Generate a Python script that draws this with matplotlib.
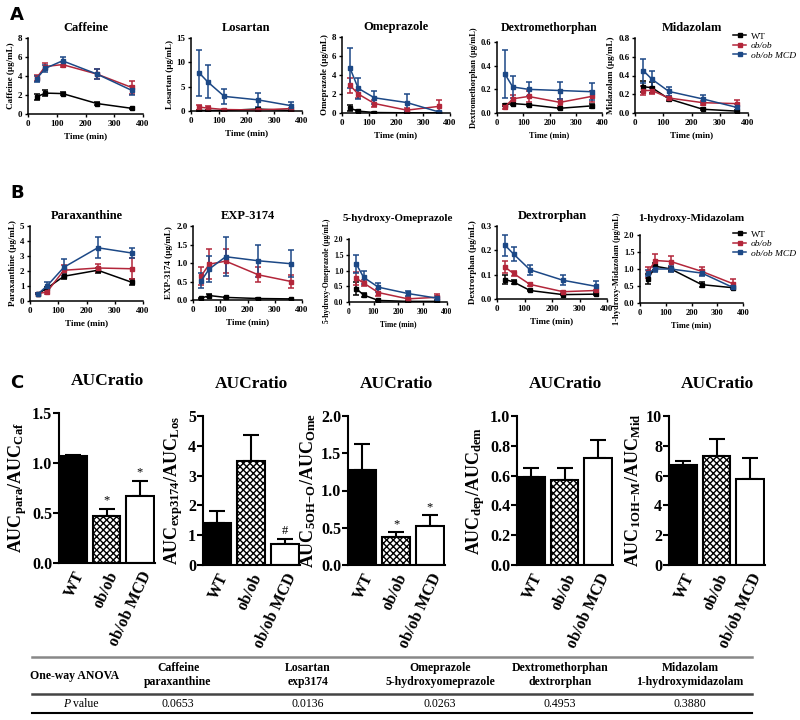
import matplotlib.pyplot as plt
import numpy as np
from matplotlib.lines import Line2D

plt.rcParams['font.family'] = ['Liberation Serif', 'DejaVu Serif']
plt.rcParams['font.weight'] = 'bold'
plt.rcParams['mathtext.fontset'] = 'custom'
plt.rcParams['mathtext.rm'] = 'Liberation Serif:bold'
plt.rcParams['mathtext.it'] = 'Liberation Serif:italic:bold'
plt.rcParams['mathtext.bf'] = 'Liberation Serif:bold'

time = [30, 60, 120, 240, 360]
groups = ['WT', 'ob/ob', 'ob/ob MCD']
colors = ['black', '#b3263a', '#1c4886']

# A: parent drugs, rows = WT, ob/ob, ob/ob MCD
caf_mean = [[1.8, 2.2, 2.15, 1.1, 0.6], [3.8, 5.0, 5.2, 4.2, 2.8], [3.7, 4.8, 5.6, 4.2, 2.5]]
caf_err = [[0.35, 0.3, 0.2, 0.15, 0.05], [0.3, 0.4, 0.3, 0.5, 0.7], [0.3, 0.4, 0.4, 0.55, 0.5]]
los_mean = [[0.1, 0.1, 0.1, 0.4, 0.1], [0.8, 0.6, 0.3, 0.2, 0.5], [7.8, 6.0, 3.0, 2.3, 1.1]]
los_err = [[0.05, 0.05, 0.05, 0.3, 0.05], [0.5, 0.4, 0.1, 0.1, 0.2], [4.7, 3.4, 1.6, 1.5, 0.7]]
ome_mean = [[0.5, 0.2, 0.05, 0.02, 0.02], [2.9, 2.0, 1.0, 0.3, 0.7], [4.7, 2.6, 1.6, 1.1, 0.1]]
ome_err = [[0.3, 0.1, 0.03, 0.02, 0.02], [0.8, 0.4, 0.4, 0.2, 0.7], [2.1, 1.1, 0.7, 0.9, 0.1]]
dem_mean = [[0.07, 0.08, 0.07, 0.04, 0.06], [0.05, 0.12, 0.14, 0.09, 0.14], [0.33, 0.22, 0.2, 0.19, 0.18]]
dem_err = [[0.01, 0.01, 0.01, 0.005, 0.02], [0.02, 0.03, 0.05, 0.03, 0.05], [0.2, 0.09, 0.06, 0.07, 0.07]]
mid_mean = [[0.28, 0.27, 0.15, 0.04, 0.02], [0.24, 0.24, 0.16, 0.11, 0.1], [0.45, 0.36, 0.23, 0.15, 0.06]]
mid_err = [[0.06, 0.06, 0.02, 0.01, 0.01], [0.05, 0.04, 0.02, 0.02, 0.04], [0.13, 0.09, 0.05, 0.04, 0.04]]

# B: metabolites
par_mean = [[0.5, 0.85, 1.65, 2.05, 1.25], [0.5, 0.6, 2.05, 2.2, 2.15], [0.5, 1.0, 2.25, 3.55, 3.2]]
par_err = [[0.05, 0.1, 0.2, 0.15, 0.2], [0.05, 0.1, 0.35, 0.25, 0.7], [0.05, 0.25, 0.55, 0.7, 0.35]]
exp_mean = [[0.05, 0.12, 0.07, 0.04, 0.03], [0.65, 0.97, 1.05, 0.68, 0.5], [0.52, 0.84, 1.17, 1.06, 0.98]]
exp_err = [[0.01, 0.05, 0.01, 0.01, 0.01], [0.25, 0.4, 0.33, 0.2, 0.18], [0.2, 0.34, 0.53, 0.43, 0.37]]
oho_mean = [[0.42, 0.22, 0.05, 0.02, 0.02], [0.75, 0.6, 0.3, 0.1, 0.15], [1.2, 0.78, 0.47, 0.27, 0.12]]
oho_err = [[0.2, 0.05, 0.01, 0.01, 0.01], [0.2, 0.1, 0.1, 0.05, 0.1], [0.28, 0.22, 0.14, 0.09, 0.06]]
dor_mean = [[0.08, 0.07, 0.035, 0.018, 0.02], [0.13, 0.105, 0.06, 0.03, 0.035], [0.22, 0.185, 0.12, 0.077, 0.052]]
dor_err = [[0.02, 0.01, 0.003, 0.003, 0.003], [0.025, 0.01, 0.005, 0.003, 0.003], [0.045, 0.03, 0.02, 0.02, 0.02]]
ohm_mean = [[0.7, 1.08, 1.0, 0.54, 0.45], [0.9, 1.25, 1.22, 0.93, 0.57], [0.88, 1.0, 1.0, 0.88, 0.46]]
ohm_err = [[0.15, 0.1, 0.05, 0.08, 0.05], [0.15, 0.2, 0.15, 0.12, 0.15], [0.1, 0.1, 0.1, 0.1, 0.05]]

# C: AUC ratios
ratio_caf = [1.07, 0.47, 0.67]
ratio_caf_err = [0.01, 0.07, 0.15]
ratio_los = [1.4, 3.5, 0.7]
ratio_los_err = [0.42, 0.87, 0.17]
ratio_ome = [1.28, 0.37, 0.52]
ratio_ome_err = [0.34, 0.07, 0.15]
ratio_dem = [0.59, 0.57, 0.72]
ratio_dem_err = [0.06, 0.08, 0.12]
ratio_mid = [6.7, 7.3, 5.75]
ratio_mid_err = [0.3, 1.15, 1.45]

anova_pairs = ['Caffeine\nparaxanthine', 'Losartan\nexp3174', 'Omeprazole\n5-hydroxyomeprazole',
               'Dextromethorphan\ndextrorphan', 'Midazolam\n1-hydroxymidazolam']
p_values = ['0.0653', '0.0136', '0.0263', '0.4953', '0.3880']

W, H = 800, 720
fig = plt.figure(figsize=(8, 7.2), dpi=100)


def rect(x0, x1, y0, y1):
    return [x0 / W, 1 - y1 / H, (x1 - x0) / W, (y1 - y0) / H]


def line_panel(r, title, ylabel, yticks, fmt, mean, err, fs=6.5, tfs=9, tpad=5):
    ax = fig.add_axes(r)
    for i in range(3):
        ax.errorbar(time, mean[i], yerr=err[i], color=colors[i], marker='s', ms=2.8,
                    lw=1.1, capsize=2, elinewidth=1.1, capthick=1.1, label=groups[i])
    ax.set_xlim(0, 400)
    ax.set_ylim(yticks[0], yticks[-1])
    ax.set_xticks([0, 100, 200, 300, 400])
    ax.set_yticks(yticks)
    ax.set_yticklabels([fmt.format(v) for v in yticks])
    ax.tick_params(labelsize=fs, length=2.5, width=1, pad=1.5)
    for t in ax.get_xticklabels() + ax.get_yticklabels():
        t.set_fontweight('bold')
    ax.spines[['top', 'right']].set_visible(False)
    ax.spines[['left', 'bottom']].set_linewidth(1.1)
    ax.set_title(title, fontsize=tfs, fontweight='bold', pad=tpad)
    ax.set_ylabel(ylabel, fontsize=fs, fontweight='bold', labelpad=2)
    ax.set_xlabel('Time (min)', fontsize=fs, fontweight='bold', labelpad=3)
    return ax


# row A
line_panel(rect(28, 143, 38, 114), 'Caffeine', 'Caffeine (µg/mL)', [0, 2, 4, 6, 8], '{:g}', caf_mean, caf_err)
line_panel(rect(191, 302, 38, 111), 'Losartan', 'Losartan (µg/mL)', [0, 5, 10, 15], '{:g}', los_mean, los_err)
line_panel(rect(342, 450, 37, 113), 'Omeprazole', 'Omeprazole (µg/mL)', [0, 2, 4, 6, 8], '{:g}', ome_mean, ome_err)
line_panel(rect(497, 602, 42, 113), 'Dextromethorphan', 'Dextromethorphan (µg/mL)', [0, 0.2, 0.4, 0.6], '{:.1f}',
           dem_mean, dem_err, fs=6, tfs=8.5, tpad=8)
axm = line_panel(rect(635, 748, 38, 113), 'Midazolam', 'Midazolam (µg/mL)', [0, 0.2, 0.4, 0.6, 0.8], '{:.1f}',
                 mid_mean, mid_err)

# row B
line_panel(rect(30, 143, 226, 301), 'Paraxanthine', 'Paraxanthine (µg/mL)', [0, 1, 2, 3, 4, 5], '{:g}', par_mean, par_err)
line_panel(rect(193, 302, 226, 300), 'EXP-3174', 'EXP-3174 (µg/mL)', [0, 0.5, 1.0, 1.5, 2.0], '{:.1f}', exp_mean, exp_err)
line_panel(rect(349, 447, 239, 302), '5-hydroxy-Omeprazole', '5-hydroxy-Omeprazole (µg/mL)', [0, 0.5, 1.0, 1.5, 2.0],
           '{:.1f}', oho_mean, oho_err, fs=5.5, tfs=8, tpad=13)
line_panel(rect(497, 607, 226, 299), 'Dextrorphan', 'Dextrorphan (µg/mL)', [0, 0.1, 0.2, 0.3], '{:.1f}',
           dor_mean, dor_err, tfs=9)
axh = line_panel(rect(640, 743, 235, 303), '1-hydroxy-Midazolam', '1-hydroxy-Midazolam (µg/mL)', [0, 0.5, 1.0, 1.5, 2.0],
                 '{:.1f}', ohm_mean, ohm_err, fs=6, tfs=8, tpad=10)

for ax, top in [(axm, 32), (axh, 230)]:
    h, l = ax.get_legend_handles_labels()
    h = [x[0] for x in h]
    leg = ax.legend(h, l, loc='upper right', bbox_to_anchor=(796 / W, 1 - top / H),
                    bbox_transform=fig.transFigure, frameon=False, fontsize=6.8,
                    handlelength=1.4, labelspacing=0.1, handletextpad=0.5, borderaxespad=0, borderpad=0)
    for j, t in enumerate(leg.get_texts()):
        t.set_fontweight('normal')
        if j > 0:
            t.set_fontstyle('italic')

# row C
bar_specs = [
    (rect(59, 155, 413, 563), ratio_caf, ratio_caf_err, [0, 0.5, 1.0, 1.5], '{:.1f}',
     r'AUC$_{\rm para}$/AUC$_{\rm Caf}$', ['', '*', '*']),
    (rect(203, 300, 416, 565), ratio_los, ratio_los_err, [0, 1, 2, 3, 4, 5], '{:g}',
     r'AUC$_{\rm exp3174}$/AUC$_{\rm Los}$', ['', '', '#']),
    (rect(348, 445, 416, 565), ratio_ome, ratio_ome_err, [0, 0.5, 1.0, 1.5, 2.0], '{:.1f}',
     r'AUC$_{\rm 5OH\!-\!O}$/AUC$_{\rm Ome}$', ['', '*', '*']),
    (rect(517, 613, 416, 565), ratio_dem, ratio_dem_err, [0, 0.2, 0.4, 0.6, 0.8, 1.0], '{:.1f}',
     r'AUC$_{\rm dep}$/AUC$_{\rm dem}$', ['', '', '']),
    (rect(669, 765, 416, 565), ratio_mid, ratio_mid_err, [0, 2, 4, 6, 8, 10], '{:g}',
     r'AUC$_{\rm 1OH\!-\!M}$/AUC$_{\rm Mid}$', ['', '', '']),
]

x = np.arange(3)
for r, vals, errs, yticks, fmt, ylab, marks in bar_specs:
    ax = fig.add_axes(r)
    ax.bar(x, vals, width=0.82, color=['black', 'white', 'white'], edgecolor='black', linewidth=1.5,
           hatch=[None, 'xxxxx', None], zorder=2)
    ax.errorbar(x, vals, yerr=[np.zeros(3), errs], fmt='none', ecolor='black', elinewidth=1.5,
                capsize=6, capthick=1.5, zorder=1)
    ax.set_xlim(-0.43, 2.45)
    ax.set_ylim(yticks[0], yticks[-1])
    ax.set_yticks(yticks)
    ax.set_yticklabels([fmt.format(v) for v in yticks])
    ax.set_xticks(x)
    ax.set_xticklabels(groups, rotation=65, ha='right', va='top', rotation_mode='anchor')
    ax.tick_params(axis='y', labelsize=11.5, length=4, width=1.5, pad=1)
    ax.tick_params(axis='x', labelsize=11.5, length=0, pad=4)
    for t in ax.get_xticklabels() + ax.get_yticklabels():
        t.set_fontweight('bold')
    ax.spines[['top', 'right']].set_visible(False)
    ax.spines[['left', 'bottom']].set_linewidth(1.5)
    ax.set_title('AUCratio', fontsize=12.5, fontweight='bold', pad=20)
    ax.set_ylabel(ylab, fontsize=13, fontweight='bold', labelpad=2)
    for xi, v, e, m in zip(x, vals, errs, marks):
        if m:
            ax.text(xi, v + e + (yticks[-1] * 0.015), m, ha='center', va='bottom', fontsize=9,
                    fontweight='normal')

# panel letters
for letter, yy in [('A', 15), ('B', 193), ('C', 383)]:
    fig.text(10 / W, 1 - yy / H, letter, fontsize=13, fontweight='bold', family='DejaVu Sans',
             ha='left', va='center')

# table
tx0, tx1 = 32 / W, 752 / W
fig.add_artist(Line2D([tx0, tx1], [1 - 657 / H, 1 - 657 / H], color='#888888', lw=1.8))
fig.add_artist(Line2D([tx0, tx1], [1 - 694 / H, 1 - 694 / H], color='#444444', lw=1.8))
fig.add_artist(Line2D([tx0, tx1], [1 - 713 / H, 1 - 713 / H], color='black', lw=1.5))
col_x = [178, 308, 440, 560, 690]
fig.text(75 / W, 1 - 676 / H, 'One-way ANOVA', fontsize=8.5, fontweight='bold', ha='center', va='center')
fig.text(70 / W, 1 - 704 / H, 'P', fontsize=8.5, fontweight='normal', fontstyle='italic', ha='right', va='center')
fig.text(73 / W, 1 - 704 / H, 'value', fontsize=8.5, fontweight='normal', ha='left', va='center')
for cx, name, p in zip(col_x, anova_pairs, p_values):
    fig.text(cx / W, 1 - 675 / H, name, fontsize=8.5, fontweight='bold', ha='center', va='center',
             linespacing=1.15)
    fig.text(cx / W, 1 - 704 / H, p, fontsize=8.5, fontweight='normal', ha='center', va='center')

fig.savefig('out.png', dpi=100)
